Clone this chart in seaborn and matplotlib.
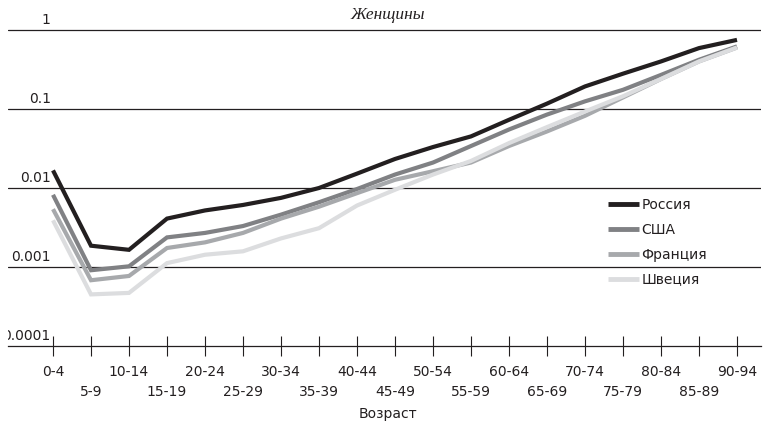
import numpy as np
import pandas as pd
import matplotlib
matplotlib.use("Agg")
import matplotlib.pyplot as plt
from matplotlib.ticker import NullLocator
from matplotlib.transforms import offset_copy
import seaborn as sns

# ---- data ----
age_groups = ["0-4", "5-9", "10-14", "15-19", "20-24", "25-29", "30-34", "35-39",
              "40-44", "45-49", "50-54", "55-59", "60-64", "65-69", "70-74",
              "75-79", "80-84", "85-89", "90-94"]
russia = [0.0167, 0.00186, 0.00165, 0.0041, 0.0052, 0.0061, 0.0075, 0.010, 0.0152,
          0.0233, 0.033, 0.045, 0.073, 0.117, 0.193, 0.28, 0.40, 0.59, 0.75]
usa = [0.0082, 0.00091, 0.00102, 0.00237, 0.0027, 0.0033, 0.0046, 0.0066, 0.0097,
       0.0148, 0.021, 0.034, 0.055, 0.085, 0.125, 0.175, 0.27, 0.42, 0.62]
france = [0.0054, 0.00068, 0.00077, 0.00174, 0.00205, 0.0027, 0.0041, 0.0058, 0.0086,
          0.0127, 0.0163, 0.021, 0.034, 0.052, 0.082, 0.14, 0.24, 0.40, 0.60]
sweden = [0.0039, 0.00045, 0.00047, 0.00112, 0.00143, 0.00158, 0.0023, 0.0031, 0.0060,
          0.0095, 0.0148, 0.022, 0.037, 0.059, 0.093, 0.145, 0.24, 0.40, 0.60]
countries = ["Россия", "США", "Франция", "Швеция"]
series = [russia, usa, france, sweden]
y_ticks = [1e-4, 1e-3, 1e-2, 1e-1, 1]
y_tick_labels = ["0.0001", "0.001", "0.01", "0.1", "1"]
title = "Женщины"
x_label = "Возраст"

colors = ["#231f20", "#808184", "#a7a9ac", "#dcdddf"]
text_color = "#231f20"

sns.set_style("white")
plt.rcParams['font.family'] = ['DejaVu Sans']

W, H = 763, 423
fig = plt.figure(figsize=(W / 100, H / 100), dpi=100)
ax_left, ax_right, ax_top, ax_bottom = 8, 761, 5, 346
ax = fig.add_axes([ax_left / W, 1 - ax_bottom / H, (ax_right - ax_left) / W,
                   (ax_bottom - ax_top) / H])

rows = []
for c, s in zip(countries, series):
    for i, v in enumerate(s):
        rows.append({"pos": i, "age": age_groups[i], "value": v, "country": c})
df = pd.DataFrame(rows)

sns.lineplot(data=df, x="pos", y="value", hue="country", hue_order=countries,
             palette=colors, linewidth=3.0, ax=ax, sort=False, legend=True,
             solid_capstyle="butt", solid_joinstyle="miter")

ax.set_yscale("log")
decade = 79.0
ax.set_ylim(1e-4, 10 ** ((30 - ax_top) / decade))
x0, dx = 53.0, 38.0
ax.set_xlim((ax_left - x0) / dx, (ax_right - x0) / dx)

# grid lines
ax.set_yticks([1e-3, 1e-2, 1e-1, 1])
ax.yaxis.set_minor_locator(NullLocator())
ax.tick_params(axis="y", length=0, labelleft=False, left=False)
ax.yaxis.grid(True, color=text_color, linewidth=0.9)
ax.set_axisbelow(True)
for side in ["top", "right", "left"]:
    ax.spines[side].set_visible(False)
ax.spines["bottom"].set_color(text_color)
ax.spines["bottom"].set_linewidth(0.9)

# y labels above lines
trans = offset_copy(ax.transData, fig=fig, x=0, y=6, units="dots")
for v, lab in zip(y_ticks, y_tick_labels):
    ax.text(-0.06, v, lab, ha="right", va="baseline", transform=trans,
            fontsize=10, color=text_color, clip_on=True)

# x ticks with two rows of labels
ax.set_xticks(range(len(age_groups)))
ax.xaxis.set_minor_locator(NullLocator())
labels = [g + "\n" if i % 2 == 0 else "\n" + g for i, g in enumerate(age_groups)]
ax.set_xticklabels(labels)
ax.tick_params(axis="x", bottom=True, direction="inout", length=14.4, width=0.8,
               color=text_color, pad=6.5, labelsize=10, labelcolor=text_color)
for t in ax.get_xticklabels():
    t.set_linespacing(1.55)

ax.set_xlabel(x_label, fontsize=10, color=text_color)
ax.xaxis.set_label_coords((388 - ax_left) / (ax_right - ax_left),
                          (ax_bottom - 414) / (ax_bottom - ax_top))
ax.xaxis.label.set_va("center")
ax.set_ylabel("")

fig.text(388 / W, 1 - 15 / H, title, ha="center", va="center",
         family=["Liberation Serif", "DejaVu Serif"], style="italic",
         fontsize=12.5, color=text_color)

handles, labs = ax.get_legend_handles_labels()
leg = ax.legend(handles, labs, loc="upper left",
                bbox_to_anchor=(608 / W, 1 - 198 / H), bbox_transform=fig.transFigure,
                frameon=False, handlelength=2.2, handletextpad=0.2,
                labelspacing=0.78, borderpad=0, borderaxespad=0, fontsize=10)
for t in leg.get_texts():
    t.set_color(text_color)
for l in leg.get_lines():
    l.set_linewidth(3.5)
    l.set_solid_capstyle("butt")

fig.savefig("out.png", dpi=100)
